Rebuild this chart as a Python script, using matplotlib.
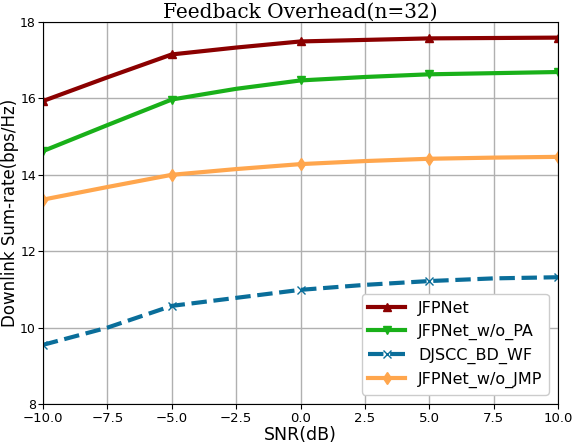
import matplotlib
matplotlib.use("Agg")
import matplotlib.pyplot as plt

snr = [-10, -7.5, -5, -2.5, 0, 2.5, 5, 7.5, 10]
jfpnet = [15.93, 16.55, 17.15, 17.33, 17.49, 17.53, 17.57, 17.58, 17.59]
jfpnet_wo_pa = [14.62, 15.3, 15.97, 16.25, 16.47, 16.56, 16.63, 16.66, 16.69]
djscc = [9.55, 10.0, 10.57, 10.78, 10.99, 11.12, 11.22, 11.29, 11.32]
jfpnet_wo_jmp = [13.35, 13.68, 14.0, 14.15, 14.28, 14.36, 14.42, 14.45, 14.47]
labels = ["JFPNet", "JFPNet_w/o_PA", "DJSCC_BD_WF", "JFPNet_w/o_JMP"]

fig = plt.figure(figsize=(5.72, 4.48), dpi=100)
ax = fig.add_axes([0.075, 0.098, 0.901, 0.853])

ax.plot(snr, jfpnet, color="#8b0000", lw=3, marker="^", ms=6, markevery=2, label=labels[0])
ax.plot(snr, jfpnet_wo_pa, color="#19b019", lw=3, marker="v", ms=6, markevery=2, label=labels[1])
ax.plot(snr, djscc, color="#0a6e9a", lw=3, ls="--", marker="x", ms=6, markevery=2, label=labels[2])
ax.plot(snr, jfpnet_wo_jmp, color="#ffa64d", lw=3, marker="d", ms=6, markevery=2, label=labels[3])

ax.set_xlim(-10, 10)
ax.set_ylim(8, 18)
ax.set_yticks([8, 10, 12, 14, 16, 18])
ax.grid(True, color="#b0b0b0", lw=1)
ax.tick_params(axis="x", labelsize=9.5, pad=2)
ax.tick_params(axis="y", labelsize=9, pad=1.5)
ax.set_xlabel("SNR(dB)", fontsize=12.5, labelpad=1)
ax.set_ylabel("Downlink Sum-rate(bps/Hz)", fontsize=12, labelpad=0.5)
ax.set_title("Feedback Overhead(n=32)", fontsize=14.5, family="DejaVu Serif", pad=3)
ax.legend(loc="lower right", fontsize=11.5, framealpha=1, handlelength=2.3,
          borderaxespad=0.6)

fig.savefig("out.png", dpi=100)
